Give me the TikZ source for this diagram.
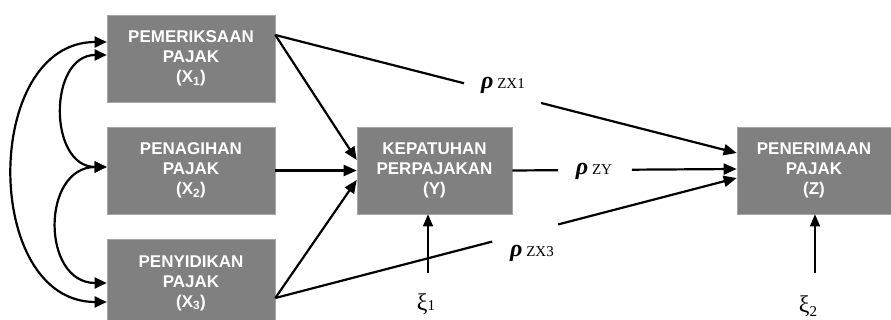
\documentclass[tikz,border=0pt]{standalone}
\usepackage{fontspec}
\setmainfont{Liberation Serif}
\newfontfamily\boxfont{Liberation Sans Bold}
\definecolor{pjBox}{HTML}{808080}
\definecolor{pjEdge}{HTML}{A6A6A6}
\definecolor{pjText}{HTML}{000000}
\usetikzlibrary{calc,arrows.meta}

\begin{document}
\begin{tikzpicture}[x=1pt,y=-1pt,
  varbox/.style={fill=pjBox, draw=pjEdge, line width=0.6pt, text=white, align=center, inner sep=0pt,
    minimum height=87pt, font=\boxfont\fontsize{17}{20}\selectfont},
  wire/.style={line width=2.2pt, draw=pjText},
  link/.style={wire, -{Triangle[length=13pt,width=11pt]}},
  twoway/.style={wire, {Triangle[length=12pt,width=11pt]}-{Triangle[length=12pt,width=11pt]}},
  errlink/.style={line width=1.2pt, draw=pjText, -{Triangle[length=12pt,width=10pt]}},
  coef/.style={font=\fontsize{15}{15}\selectfont, text=pjText, inner sep=0pt}]
  \useasboundingbox (0,0) rectangle (891,320);
  % variables
  \node[varbox, minimum width=168pt] (x1) at (191,58.5) {PEMERIKSAAN\\PAJAK\\(X\textsubscript{1})};
  \node[varbox, minimum width=168pt] (x2) at (191,170.5) {PENAGIHAN\\PAJAK\\(X\textsubscript{2})};
  \node[varbox, minimum width=168pt] (x3) at (191,283) {PENYIDIKAN\\PAJAK\\(X\textsubscript{3})};
  \node[varbox, minimum width=155pt] (y) at (434.5,170.5) {KEPATUHAN\\PERPAJAKAN\\(Y)};
  \node[varbox, minimum width=154pt] (z) at (814,170.5) {PENERIMAAN\\PAJAK\\(Z)};
  % path coefficients
  \node[coef] (rzx1) at (503,85) {{\fontsize{24}{24}\selectfont\bfseries\itshape ρ} ZX1};
  \node[coef] (rzy) at (594,171) {{\fontsize{24}{24}\selectfont\bfseries\itshape ρ} ZY};
  \node[coef] (rzx3) at (532,253) {{\fontsize{24}{24}\selectfont\bfseries\itshape ρ} ZX3};
  \node[coef] (xi1) at (426,304) {{\fontsize{24}{24}\selectfont ξ}1};
  \node[coef] (xi2) at (808,306) {{\fontsize{24}{24}\selectfont ξ}\raisebox{-4pt}{2}};
  % correlations
  \draw[twoway] ([yshift=16.5pt]x1.west) .. controls (-18,42) and (-18,302) .. ([yshift=-19pt]x3.west);
  \draw[twoway] ([yshift=3.5pt]x1.west) .. controls (48,55) and (48,167) .. ([yshift=3.5pt]x2.west);
  \draw[twoway] ([yshift=3.5pt]x2.west) .. controls (41,167) and (41,283) .. (x3.west);
  % paths to Y
  \draw[link] ([yshift=23.5pt]x1.east) -- ([yshift=10.5pt]y.west);
  \draw[link] (x2.east) -- (y.west);
  \draw[link] ([yshift=-15pt]x3.east) -- ([yshift=-9.5pt]y.west);
  % paths to Z
  \coordinate (s1) at ([yshift=23.5pt]x1.east);
  \coordinate (t1) at ([yshift=17.5pt]z.west);
  \draw[wire] (s1) -- ($(s1)!0.409!(t1)$);
  \draw[link] ($(s1)!0.576!(t1)$) -- (t1);
  \coordinate (s2) at (y.east);
  \coordinate (t2) at ([yshift=1.5pt]z.west);
  \draw[wire] (s2) -- ($(s2)!0.204!(t2)$);
  \draw[link] ($(s2)!0.533!(t2)$) -- (t2);
  \coordinate (s3) at ([yshift=-15pt]x3.east);
  \coordinate (t3) at ([yshift=-7.5pt]z.west);
  \draw[wire] (s3) -- ($(s3)!0.47!(t3)$);
  \draw[link] ($(s3)!0.613!(t3)$) -- (t3);
  % disturbances
  \coordinate (e1) at (428,273);
  \coordinate (e2) at (815,273);
  \draw[errlink] (e1) -- (e1 |- y.south);
  \draw[errlink] (e2) -- (e2 |- z.south);
\end{tikzpicture}
\end{document}
